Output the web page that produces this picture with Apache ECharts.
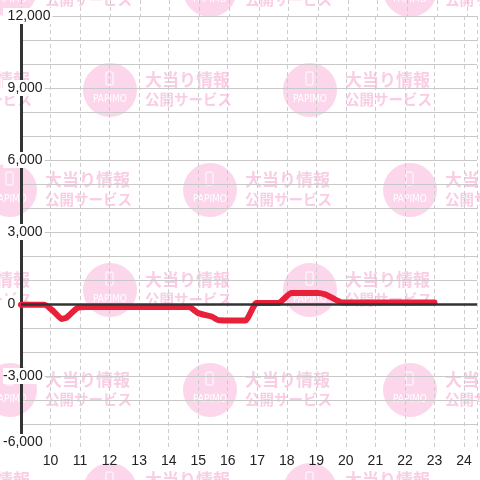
<!DOCTYPE html>
<html>
<head>
<meta charset="utf-8">
<script src="https://cdn.jsdelivr.net/npm/echarts@6/dist/echarts.min.js"></script>
<style>html,body{margin:0;padding:0;background:#fff}#c{width:480px;height:480px}</style>
</head>
<body>
<div id="c"></div>
<script>
// hours of the day
const times = [9, 9.8, 10.1, 10.37, 10.55, 10.9, 11.2, 14.7, 15.0, 15.45, 15.7, 16.6, 16.97, 17.72, 18.15, 19.05, 19.3, 19.5, 19.87, 23];
// balance values
const values = [-30, -30, -300, -620, -560, -170, -130, -130, -380, -520, -680, -690, 40, 40, 460, 460, 400, 280, 60, 60];
const yMin = -6000, yMax = 12000, yGridStep = 1000, yLabelStep = 3000;
const xMin = 9, xMax = 24.44;
const wmLine1 = '大当り情報', wmLine2 = '公開サービス', wmLogo = 'PAPIMO';

const seriesData = times.map((t, i) => [t, values[i]]);

// watermark tiles
const wm = [];
const pink = '#fcd6eb', pinkText = '#f9cde4';
for (let r = 0; r <= 5; r++) {
  const cy = -10 + r * 100;
  const off = (r % 2 === 0) ? 10 : 110;
  for (let cx = off - 200; cx < 520; cx += 200) {
    wm.push({type: 'circle', z: -10, silent: true, shape: {cx: cx, cy: cy, r: 27}, style: {fill: pink}});
    wm.push({type: 'rect', z: -9, silent: true, shape: {x: cx - 4, y: cy - 18, width: 7, height: 13, r: 1}, style: {fill: 'none', stroke: '#fff', lineWidth: 1}});
    wm.push({type: 'text', z: -9, silent: true, x: cx, y: cy + 9, style: {text: wmLogo, fill: '#fff', fontSize: 10, fontFamily: 'DejaVu Sans Condensed', align: 'center', verticalAlign: 'middle'}});
    wm.push({type: 'text', z: -9, silent: true, x: cx + 35, y: cy - 10, style: {text: wmLine1, fill: pinkText, fontSize: 17, fontWeight: 'bold', fontFamily: 'Noto Sans CJK JP', verticalAlign: 'middle'}});
    wm.push({type: 'text', z: -9, silent: true, x: cx + 35, y: cy + 9, style: {text: wmLine2, fill: pinkText, fontSize: 14.5, fontWeight: 'bold', fontFamily: 'Noto Sans CJK JP', verticalAlign: 'middle'}});
  }
}

const fmt = v => v.toLocaleString('en-US');
const labelFont = {fontSize: 14, color: '#222', fontFamily: 'Liberation Sans'};
const chart = echarts.init(document.getElementById('c'), null, {renderer: 'canvas'});
chart.setOption({
  animation: false,
  backgroundColor: '#fff',
  graphic: {elements: wm},
  grid: [
    {left: 21, right: 0, top: 16, bottom: 32},
    {left: 21, right: 0, top: 0, height: 16}
  ],
  xAxis: [
    {type: 'value', gridIndex: 0, min: xMin, max: xMax, interval: 1,
     axisLine: {show: false}, axisTick: {show: false},
     axisLabel: Object.assign({margin: 6,
       formatter: v => (Number.isInteger(v) && v >= 10) ? String(v) : ''}, labelFont),
     splitLine: {show: true, lineStyle: {color: '#cccccc', width: 1, type: [4, 3]}}},
    {type: 'value', gridIndex: 1, min: xMin, max: xMax, interval: 1,
     axisLine: {show: false}, axisTick: {show: false}, axisLabel: {show: false},
     splitLine: {show: true, lineStyle: {color: '#cccccc', width: 1, type: [4, 3]}}}
  ],
  yAxis: [
    {type: 'value', gridIndex: 0, min: yMin, max: yMax, interval: yGridStep,
     axisLine: {show: false}, axisTick: {show: false}, axisLabel: {show: false},
     splitLine: {show: true, showMinLine: false, lineStyle: {color: '#c8c8c8', width: 1}}},
    {type: 'value', gridIndex: 0, min: yMin, max: yMax, interval: yLabelStep, position: 'left',
     axisLine: {show: true, onZero: false, lineStyle: {color: '#333', width: 3}},
     axisTick: {show: false}, splitLine: {show: false},
     axisLabel: Object.assign({align: 'left', margin: 18, backgroundColor: '#fff', padding: [1, 2, 1, 0],
       formatter: v => {
         const key = v === yMin ? 'm' : (v < 0 ? 'n' : 'p');
         return '{' + key + '|' + fmt(v) + '}';
       },
       rich: {n: Object.assign({}, labelFont),
              m: Object.assign({padding: [0, 0, 12, 0]}, labelFont),
              p: Object.assign({padding: [0, 0, 0, 4.6]}, labelFont)}}, labelFont)},
    {type: 'value', gridIndex: 1, show: false, min: 0, max: 1}
  ],
  series: [
    {type: 'line', xAxisIndex: 0, yAxisIndex: 0, data: [], z: 1, silent: true,
     markLine: {silent: true, symbol: ['none', 'none'], label: {show: false},
       lineStyle: {color: '#333', width: 2.5, type: 'solid'}, data: [{yAxis: 0}]}},
    {type: 'line', xAxisIndex: 0, yAxisIndex: 0, data: seriesData, z: 3, showSymbol: false, smooth: 0.15,
     lineStyle: {color: '#e8213a', width: 6, join: 'round', cap: 'round'}}
  ]
});
</script>
</body>
</html>
